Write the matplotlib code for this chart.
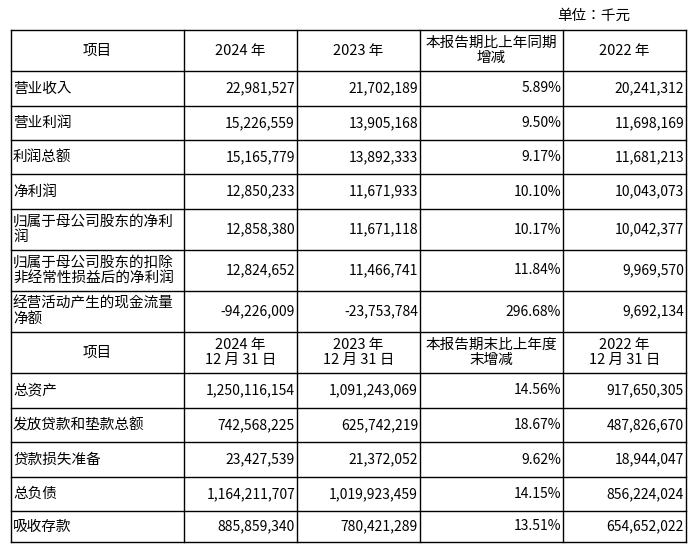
import matplotlib.pyplot as plt

plt.rcParams["font.family"] = "sans-serif"
plt.rcParams["font.sans-serif"] = ["Noto Sans CJK SC", "Noto Sans CJK JP", "DejaVu Sans"]

items1 = ["营业收入", "营业利润", "利润总额", "净利润", "归属于母公司股东的净利\n润",
          "归属于母公司股东的扣除\n非经常性损益后的净利润", "经营活动产生的现金流量\n净额"]
v2024_1 = ["22,981,527", "15,226,559", "15,165,779", "12,850,233", "12,858,380", "12,824,652", "-94,226,009"]
v2023_1 = ["21,702,189", "13,905,168", "13,892,333", "11,671,933", "11,671,118", "11,466,741", "-23,753,784"]
chg_1 = ["5.89%", "9.50%", "9.17%", "10.10%", "10.17%", "11.84%", "296.68%"]
v2022_1 = ["20,241,312", "11,698,169", "11,681,213", "10,043,073", "10,042,377", "9,969,570", "9,692,134"]

items2 = ["总资产", "发放贷款和垫款总额", "贷款损失准备", "总负债", "吸收存款"]
v2024_2 = ["1,250,116,154", "742,568,225", "23,427,539", "1,164,211,707", "885,859,340"]
v2023_2 = ["1,091,243,069", "625,742,219", "21,372,052", "1,019,923,459", "780,421,289"]
chg_2 = ["14.56%", "18.67%", "9.62%", "14.15%", "13.51%"]
v2022_2 = ["917,650,305", "487,826,670", "18,944,047", "856,224,024", "654,652,022"]

header1 = ["项目", "2024 年", "2023 年", "本报告期比上年同期\n增减", "2022 年"]
header2 = ["项目", "2024 年\n12 月 31 日", "2023 年\n12 月 31 日", "本报告期末比上年度\n末增减", "2022 年\n12 月 31 日"]

xs = [11, 184, 297, 420, 563, 686]
ys = [30, 71, 106, 140, 174, 209, 250, 291, 332, 373, 408, 442, 477, 511, 542]

fig = plt.figure(figsize=(6.92, 5.46), dpi=100)
ax = fig.add_axes([0, 0, 1, 1])
ax.set_xlim(0, 692)
ax.set_ylim(546, 0)
ax.axis("off")

fs = 10.5
ax.text(630, 16, "单位：千元", ha="right", va="center", fontsize=fs)

rows = [header1] + [list(r) for r in zip(items1, v2024_1, v2023_1, chg_1, v2022_1)] \
    + [header2] + [list(r) for r in zip(items2, v2024_2, v2023_2, chg_2, v2022_2)]
header_idx = {0, 8}

for i, row in enumerate(rows):
    y0, y1 = ys[i], ys[i + 1]
    yc = (y0 + y1) / 2
    for j, txt in enumerate(row):
        if i in header_idx:
            ax.text((xs[j] + xs[j + 1]) / 2, yc, txt, ha="center", va="center",
                    fontsize=fs, linespacing=1.1)
        elif j == 0:
            ax.text(xs[0] + 2, yc, txt, ha="left", va="center", fontsize=fs, linespacing=1.1)
        else:
            ax.text(xs[j + 1] - 2, yc, txt, ha="right", va="center", fontsize=10)

lw = 1.0
for y in ys:
    ax.plot([xs[0], xs[-1]], [y, y], color="black", lw=lw)
for x in xs:
    ax.plot([x, x], [ys[0], ys[-1]], color="black", lw=lw)

fig.savefig("out.png", dpi=100)
